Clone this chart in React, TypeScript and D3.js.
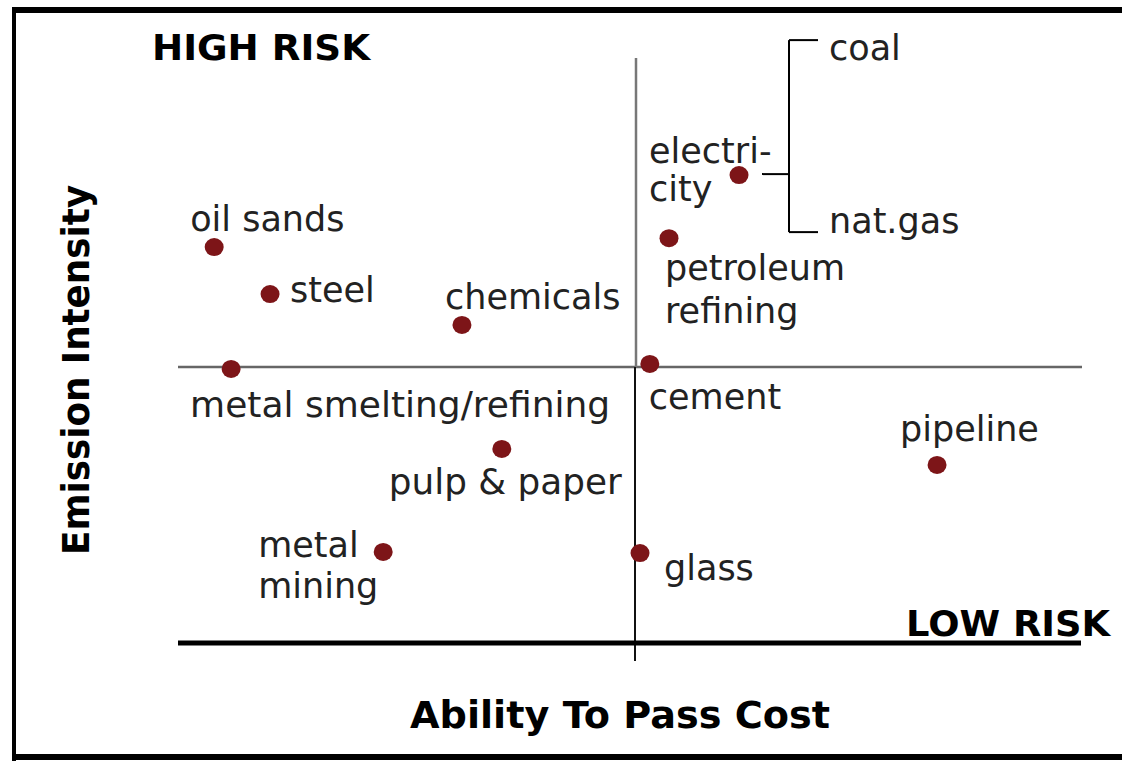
import React from "react";
import * as d3 from "d3";

// ---- data ----
const sectors = [
  "oil sands",
  "steel",
  "chemicals",
  "metal smelting/refining",
  "cement",
  "electricity",
  "petroleum refining",
  "pipeline",
  "pulp & paper",
  "metal mining",
  "glass",
];
// ability to pass cost (-1 low .. +1 high), emission intensity (-1 low .. +1 high)
const abilityToPassCost = [-0.921, -0.799, -0.38, -0.884, 0.031, 0.231, 0.074, 0.675, -0.293, -0.552, 0.009];
const emissionIntensity = [0.388, 0.236, 0.136, -0.007, 0.01, 0.621, 0.417, -0.355, -0.297, -0.67, -0.674];
const sectorLabelLines = [
  ["oil sands"],
  ["steel"],
  ["chemicals"],
  ["metal smelting/refining"],
  ["cement"],
  ["electri-", "city"],
  ["petroleum", "refining"],
  ["pipeline"],
  ["pulp & paper"],
  ["metal", "mining"],
  ["glass"],
];
const electricitySources = ["coal", "nat.gas"];
const quadrantLabels = ["HIGH RISK", "LOW RISK"];
const xAxisTitle = "Ability To Pass Cost";
const yAxisTitle = "Emission Intensity";

// ---- layout (label offsets relative to each point) ----
const labelLayout: Record<string, { dx: number; dy: number; lh?: number; len?: number }> = {
  "oil sands": { dx: -24, dy: -16 },
  steel: { dx: 20, dy: 8 },
  chemicals: { dx: -17, dy: -16 },
  "metal smelting/refining": { dx: -41, dy: 48, len: 420 },
  cement: { dx: -1, dy: 45 },
  electricity: { dx: -90, dy: -12, lh: 38 },
  "petroleum refining": { dx: -4, dy: 42, lh: 43 },
  pipeline: { dx: -37, dy: -24 },
  "pulp & paper": { dx: -113, dy: 45, len: 233 },
  "metal mining": { dx: -125, dy: 5, lh: 41 },
  glass: { dx: 24, dy: 27 },
};

const W = 1122;
const H = 761;
const FONT = "'DejaVu Sans', Verdana, sans-serif";
const DOT = "#7d1518";

export default function App() {
  const x = d3.scaleLinear().domain([-1, 0, 1]).range([178, 636, 1082]);
  const y = d3.scaleLinear().domain([-1, 0, 1]).range([643, 367, 58]);

  const eIdx = sectors.indexOf("electricity");
  const ex = x(abilityToPassCost[eIdx]);
  const ey = y(emissionIntensity[eIdx]);

  return (
    <svg
      width={W}
      height={H}
      style={{ position: "fixed", left: 0, top: 0, background: "#fff" }}
      fontFamily={FONT}
    >
      <rect x={0} y={0} width={W} height={H} fill="#fff" />
      {/* frame */}
      <line x1={12} x2={W + 10} y1={10} y2={10} stroke="#000" strokeWidth={6} />
      <line x1={14} x2={14} y1={7} y2={761} stroke="#000" strokeWidth={4} />
      <line x1={12} x2={W + 10} y1={757} y2={757} stroke="#000" strokeWidth={6} />

      {/* quadrant lines */}
      <line x1={x(-1)} x2={x(1)} y1={y(0)} y2={y(0)} stroke="#666" strokeWidth={2.5} />
      <line x1={x(0)} x2={x(0)} y1={y(1)} y2={y(0)} stroke="#777" strokeWidth={2.5} />
      <line x1={x(0) - 1} x2={x(0) - 1} y1={y(0)} y2={y(-1) + 18} stroke="#111" strokeWidth={2} />
      <line x1={x(-1)} x2={x(1) - 1} y1={y(-1)} y2={y(-1)} stroke="#000" strokeWidth={5} />

      {/* quadrant labels */}
      <text x={152} y={60} fontSize={35} fontWeight="bold" textLength={218} lengthAdjust="spacingAndGlyphs" fill="#000">
        {quadrantLabels[0]}
      </text>
      <text x={906} y={636} fontSize={35} fontWeight="bold" textLength={204} lengthAdjust="spacingAndGlyphs" fill="#000">
        {quadrantLabels[1]}
      </text>

      {/* axis titles */}
      <text x={410} y={728} fontSize={37} fontWeight="bold" textLength={420} lengthAdjust="spacingAndGlyphs" fill="#000">
        {xAxisTitle}
      </text>
      <text
        transform={`translate(89,370) rotate(-90)`}
        textAnchor="middle"
        fontSize={37}
        fontWeight="bold"
        textLength={370}
        lengthAdjust="spacingAndGlyphs"
        fill="#000"
      >
        {yAxisTitle}
      </text>

      {/* electricity bracket */}
      <g stroke="#000" strokeWidth={2} fill="none">
        <line x1={ex + 23} x2={ex + 50} y1={ey - 1} y2={ey - 1} />
        <line x1={ex + 50} x2={ex + 50} y1={ey - 135} y2={ey + 57} />
        <line x1={ex + 50} x2={ex + 79} y1={ey - 135} y2={ey - 135} />
        <line x1={ex + 50} x2={ex + 79} y1={ey + 57} y2={ey + 57} />
      </g>
      <text x={ex + 90} y={ey - 115} fontSize={35} fill="#222">
        {electricitySources[0]}
      </text>
      <text x={ex + 90} y={ey + 58} fontSize={35} fill="#222">
        {electricitySources[1]}
      </text>

      {/* points */}
      {sectors.map((s, i) => (
        <ellipse key={s} cx={x(abilityToPassCost[i])} cy={y(emissionIntensity[i])} rx={9.5} ry={9} fill={DOT} />
      ))}

      {/* labels */}
      {sectors.map((s, i) => {
        const L = labelLayout[s];
        const px = x(abilityToPassCost[i]);
        const py = y(emissionIntensity[i]);
        return sectorLabelLines[i].map((line, j) => (
          <text
            key={s + j}
            x={px + L.dx}
            y={py + L.dy + j * (L.lh || 0)}
            fontSize={35}
            fill="#222"
            {...(L.len ? { textLength: L.len, lengthAdjust: "spacingAndGlyphs" } : {})}
          >
            {line}
          </text>
        ));
      })}
    </svg>
  );
}
